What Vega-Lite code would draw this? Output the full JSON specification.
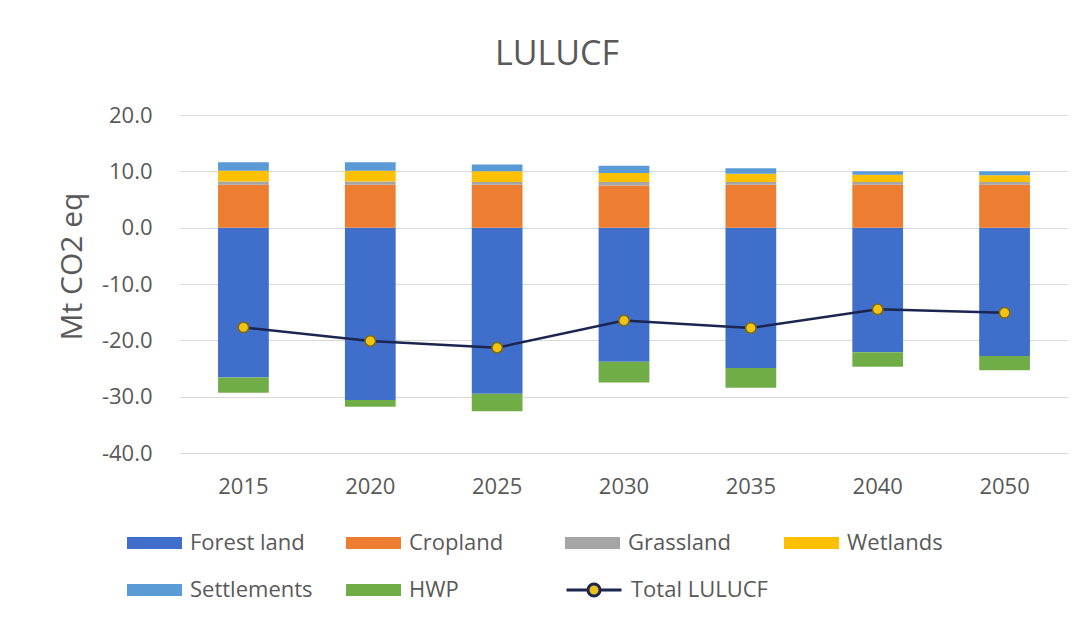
{
  "$schema": "https://vega.github.io/schema/vega-lite/v6.json",
  "width": 888,
  "height": 338,
  "autosize": {"type": "none"},
  "padding": {"left": 180, "top": 115, "right": 23, "bottom": 171},
  "background": "white",
  "config": {"view": {"stroke": null}, "font": "Open Sans"},
  "title": {"text": "LULUCF", "fontSize": 34, "font": "Open Sans", "fontWeight": "normal", "color": "#595959", "anchor": "middle", "frame": "group", "dx": -67, "offset": 5, "baseline": "alphabetic"},
  "data": {"values": [
    {"year": "2015", "series": "Forest land", "idx": 1, "value": -26.6},
    {"year": "2015", "series": "Cropland", "idx": 2, "value": 7.6},
    {"year": "2015", "series": "Grassland", "idx": 3, "value": 0.6},
    {"year": "2015", "series": "Wetlands", "idx": 4, "value": 1.9},
    {"year": "2015", "series": "Settlements", "idx": 5, "value": 1.5},
    {"year": "2015", "series": "HWP", "idx": 6, "value": -2.7},
    {"year": "2015", "series": "Total LULUCF", "idx": 7, "value": -17.7},
    {"year": "2020", "series": "Forest land", "idx": 1, "value": -30.6},
    {"year": "2020", "series": "Cropland", "idx": 2, "value": 7.6},
    {"year": "2020", "series": "Grassland", "idx": 3, "value": 0.6},
    {"year": "2020", "series": "Wetlands", "idx": 4, "value": 1.9},
    {"year": "2020", "series": "Settlements", "idx": 5, "value": 1.5},
    {"year": "2020", "series": "HWP", "idx": 6, "value": -1.2},
    {"year": "2020", "series": "Total LULUCF", "idx": 7, "value": -20.1},
    {"year": "2025", "series": "Forest land", "idx": 1, "value": -29.5},
    {"year": "2025", "series": "Cropland", "idx": 2, "value": 7.6},
    {"year": "2025", "series": "Grassland", "idx": 3, "value": 0.5},
    {"year": "2025", "series": "Wetlands", "idx": 4, "value": 1.9},
    {"year": "2025", "series": "Settlements", "idx": 5, "value": 1.2},
    {"year": "2025", "series": "HWP", "idx": 6, "value": -3.1},
    {"year": "2025", "series": "Total LULUCF", "idx": 7, "value": -21.3},
    {"year": "2030", "series": "Forest land", "idx": 1, "value": -23.8},
    {"year": "2030", "series": "Cropland", "idx": 2, "value": 7.5},
    {"year": "2030", "series": "Grassland", "idx": 3, "value": 0.6},
    {"year": "2030", "series": "Wetlands", "idx": 4, "value": 1.6},
    {"year": "2030", "series": "Settlements", "idx": 5, "value": 1.3},
    {"year": "2030", "series": "HWP", "idx": 6, "value": -3.7},
    {"year": "2030", "series": "Total LULUCF", "idx": 7, "value": -16.5},
    {"year": "2035", "series": "Forest land", "idx": 1, "value": -24.9},
    {"year": "2035", "series": "Cropland", "idx": 2, "value": 7.6},
    {"year": "2035", "series": "Grassland", "idx": 3, "value": 0.5},
    {"year": "2035", "series": "Wetlands", "idx": 4, "value": 1.45},
    {"year": "2035", "series": "Settlements", "idx": 5, "value": 1.0},
    {"year": "2035", "series": "HWP", "idx": 6, "value": -3.5},
    {"year": "2035", "series": "Total LULUCF", "idx": 7, "value": -17.8},
    {"year": "2040", "series": "Forest land", "idx": 1, "value": -22.1},
    {"year": "2040", "series": "Cropland", "idx": 2, "value": 7.6},
    {"year": "2040", "series": "Grassland", "idx": 3, "value": 0.5},
    {"year": "2040", "series": "Wetlands", "idx": 4, "value": 1.3},
    {"year": "2040", "series": "Settlements", "idx": 5, "value": 0.6},
    {"year": "2040", "series": "HWP", "idx": 6, "value": -2.6},
    {"year": "2040", "series": "Total LULUCF", "idx": 7, "value": -14.5},
    {"year": "2050", "series": "Forest land", "idx": 1, "value": -22.8},
    {"year": "2050", "series": "Cropland", "idx": 2, "value": 7.6},
    {"year": "2050", "series": "Grassland", "idx": 3, "value": 0.5},
    {"year": "2050", "series": "Wetlands", "idx": 4, "value": 1.2},
    {"year": "2050", "series": "Settlements", "idx": 5, "value": 0.7},
    {"year": "2050", "series": "HWP", "idx": 6, "value": -2.5},
    {"year": "2050", "series": "Total LULUCF", "idx": 7, "value": -15.1}
  ]},
  "encoding": {
    "x": {
      "field": "year", "type": "nominal",
      "scale": {"paddingInner": 0.6, "paddingOuter": 0.3},
      "axis": {"title": null, "labelAngle": 0, "labelFontSize": 22, "labelColor": "#595959", "labelFont": "Open Sans", "labelPadding": 23, "ticks": false, "domain": false, "grid": false}
    }
  },
  "layer": [
    {
      "transform": [{"filter": "datum.series !== 'Total LULUCF'"}],
      "mark": {"type": "bar", "stroke": null},
      "encoding": {
        "y": {
          "field": "value", "type": "quantitative", "stack": "zero", "title": "Mt CO2 eq",
          "scale": {"domain": [-40, 20], "nice": false, "zero": false},
          "axis": {"values": [-40, -30, -20, -10, 0, 10, 20], "labelExpr": "replace(format(datum.value, '.1f'), '\u2212', '-')", "labelFontSize": 22, "labelColor": "#595959", "labelFont": "Open Sans", "labelPadding": 28, "ticks": false, "domain": false, "grid": true, "gridColor": "#D9D9D9", "gridWidth": 1, "titleFontSize": 30, "titleFont": "Open Sans", "titleFontWeight": "normal", "titleColor": "#595959", "titlePadding": 14, "titleY": 151}
        },
        "order": {"field": "idx", "type": "quantitative"},
        "color": {
          "field": "series", "type": "nominal",
          "scale": {
            "domain": ["Forest land", "Cropland", "Grassland", "Wetlands", "Settlements", "HWP"],
            "range": ["#3F6FCB", "#ED7D31", "#A5A5A5", "#FFC000", "#5B9BD5", "#70AD47"]
          },
          "legend": {
            "title": null, "orient": "none", "legendX": -53, "legendY": 415,
            "direction": "horizontal", "columns": 4, "gridAlign": "all",
            "symbolType": "M-1,-0.22H1V0.22H-1Z", "symbolSize": 3025, "symbolStrokeWidth": 0, "clipHeight": 26,
            "rowPadding": 21, "columnPadding": 33, "labelOffset": 8,
            "labelFontSize": 22, "labelColor": "#595959", "labelFont": "Open Sans", "labelLimit": 300
          }
        }
      }
    },
    {
      "transform": [{"filter": "datum.series === 'Total LULUCF'"}],
      "mark": {"type": "line", "strokeWidth": 2.5},
      "encoding": {
        "y": {"field": "value", "type": "quantitative", "title": "Mt CO2 eq"},
        "stroke": {
          "field": "series", "type": "nominal",
          "scale": {"domain": ["Total LULUCF"], "range": ["#1C2550"]},
          "legend": {
            "title": null, "orient": "none", "legendX": 385, "legendY": 462,
            "symbolType": "M-1,0H-0.25M0.25,0H1M-0.22,0A0.22,0.22,0,1,0,0.22,0A0.22,0.22,0,1,0,-0.22,0Z",
            "symbolSize": 3025, "symbolStrokeWidth": 3, "symbolFillColor": "#E8C21A", "clipHeight": 26,
            "labelOffset": 8, "labelFontSize": 22, "labelColor": "#595959", "labelFont": "Open Sans", "labelLimit": 300
          }
        }
      }
    },
    {
      "transform": [{"filter": "datum.series === 'Total LULUCF'"}],
      "mark": {"type": "point", "filled": true, "fill": "#F2C314", "stroke": "#7A6A10", "strokeWidth": 1.5, "size": 110, "opacity": 1},
      "encoding": {
        "y": {"field": "value", "type": "quantitative", "title": "Mt CO2 eq"}
      }
    }
  ]
}
